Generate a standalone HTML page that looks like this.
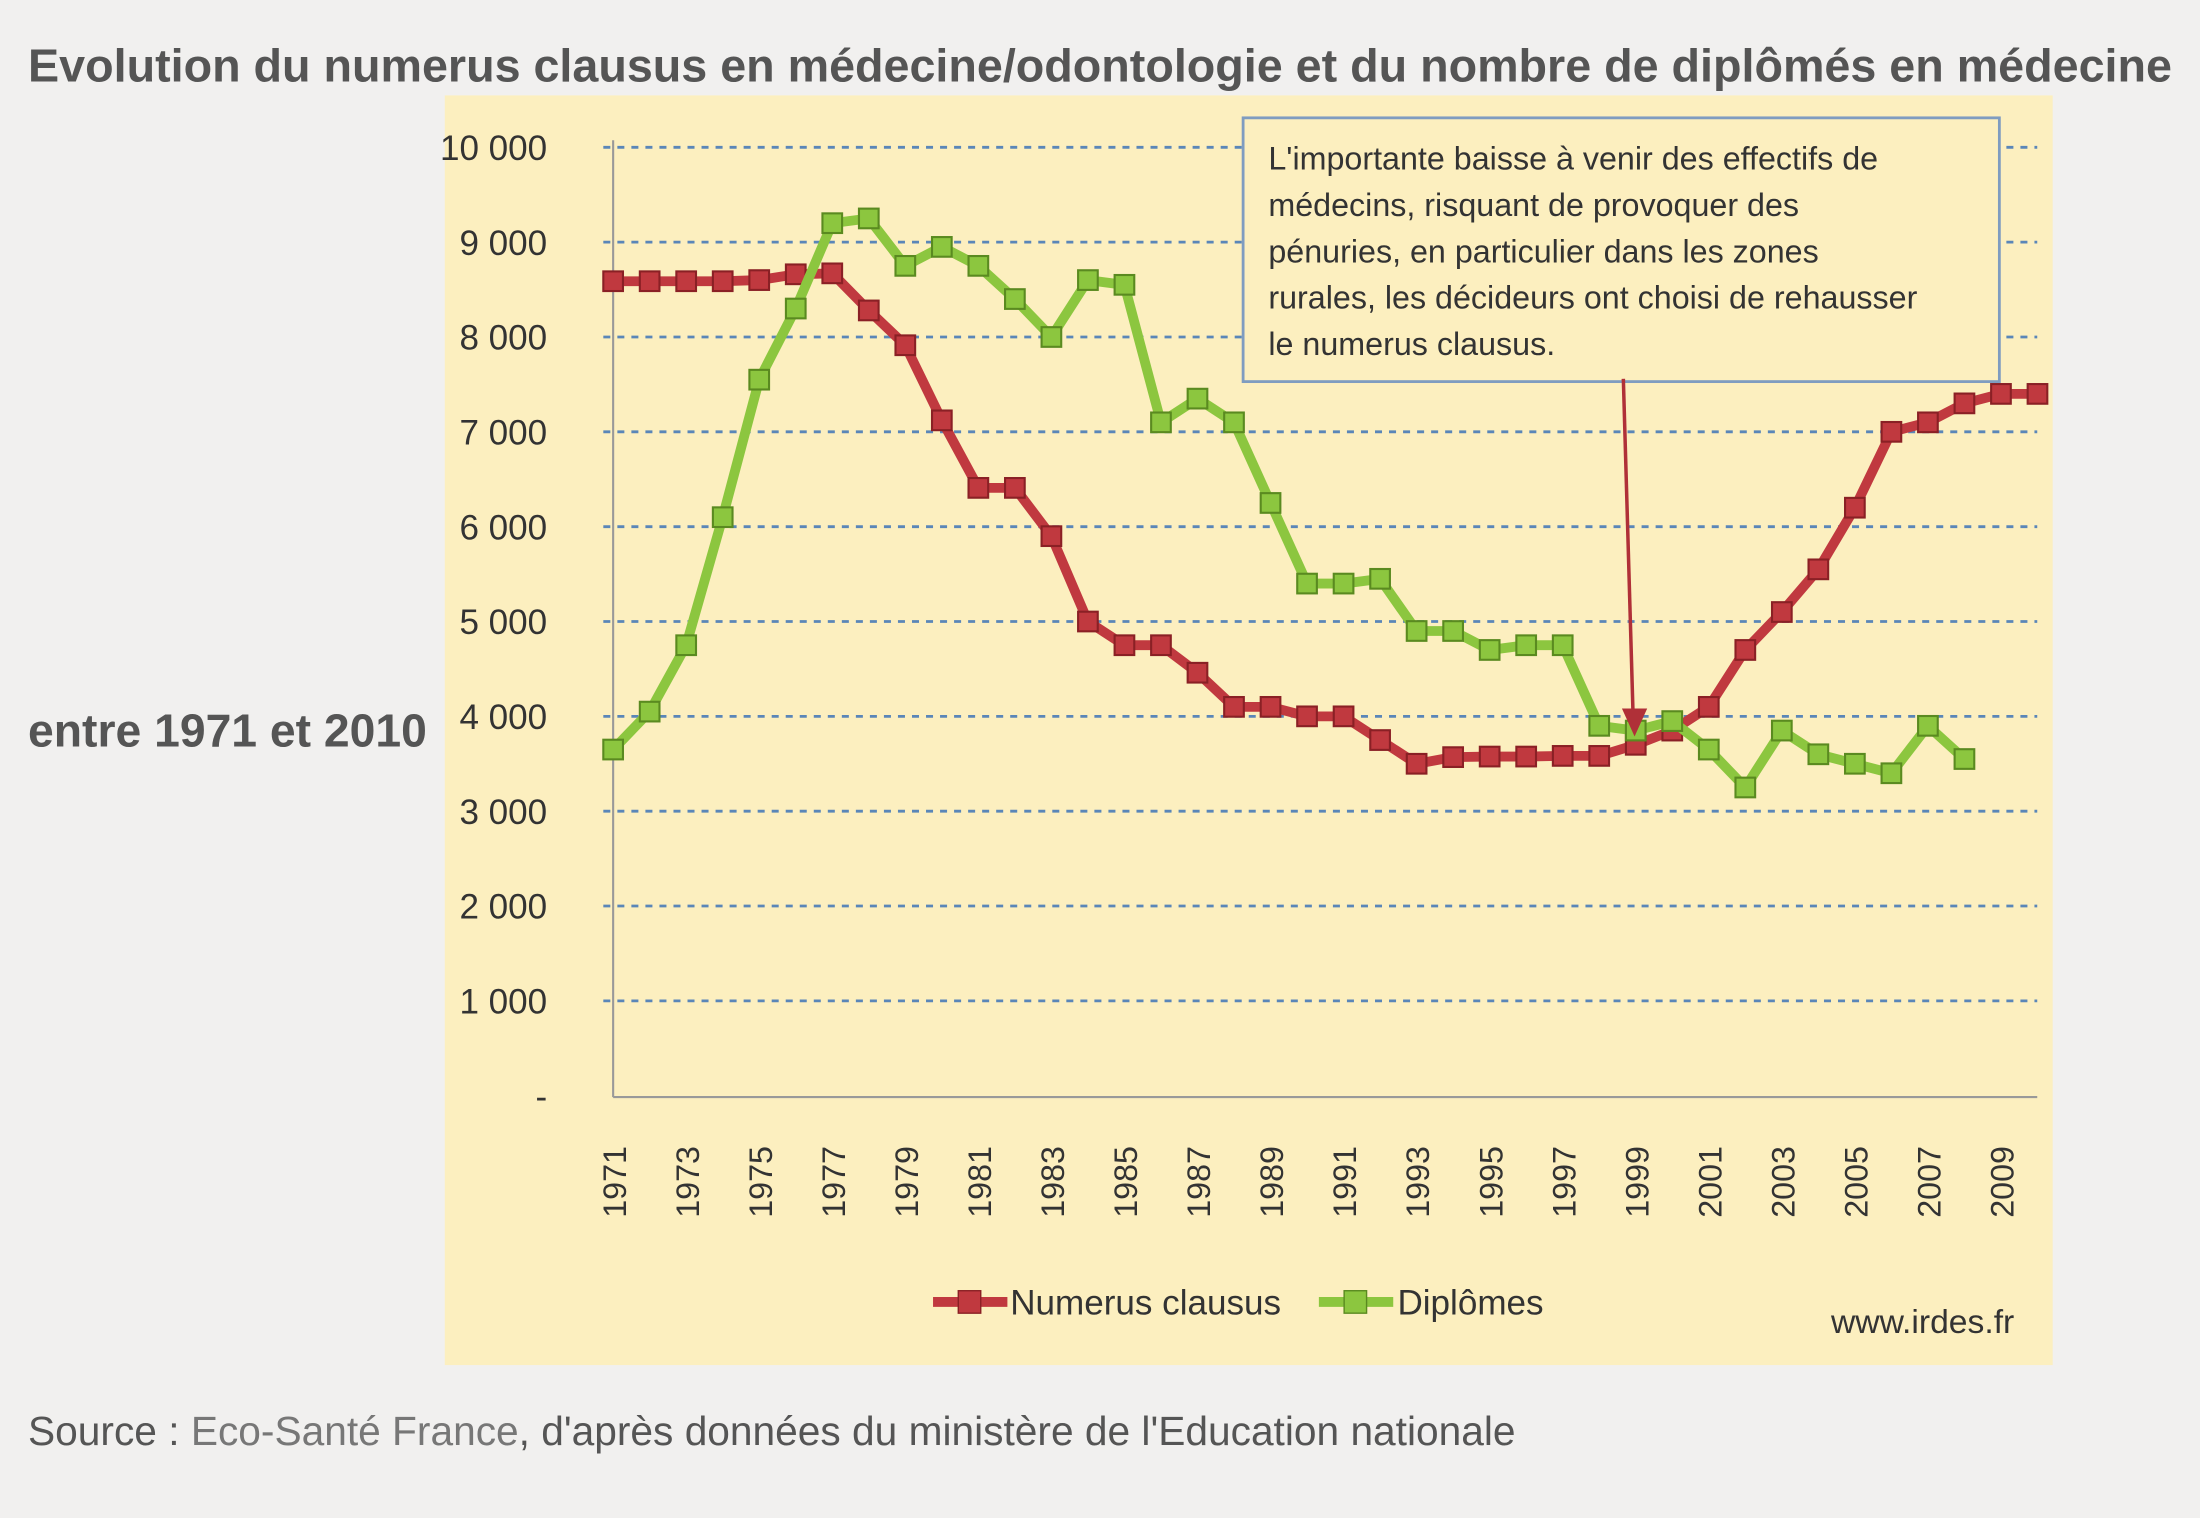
<!DOCTYPE html>
<html><head><meta charset="utf-8"><style>
html,body{margin:0;padding:0;background:#f1f0ef;}
svg{display:block}
</style></head><body>
<svg id="s" width="2200" height="1518" viewBox="0 0 1568 1082" preserveAspectRatio="none" xmlns="http://www.w3.org/2000/svg" font-family="Liberation Sans, sans-serif">
<rect width="1568" height="1082" fill="#f1f0ef"/>
<text x="20" y="58" font-size="33" font-weight="bold" fill="#555" textLength="1528" lengthAdjust="spacingAndGlyphs">Evolution du numerus clausus en médecine/odontologie et du nombre de diplômés en médecine</text>
<rect x="317" y="68" width="1146" height="905" fill="#fcefbf"/>
<g id="grid"></g>
<line x1="437" y1="100" x2="437" y2="782" stroke="#999" stroke-width="1.5"/>
<line x1="437" y1="782" x2="1452" y2="782" stroke="#999" stroke-width="1.5"/>
<g id="ser"></g>
<rect x="886" y="84" width="539" height="188" fill="#fcefbf" stroke="#7f9cc0" stroke-width="2"/>
<g font-size="23" fill="#333">
<text x="904" y="121">L'importante baisse à venir des effectifs de</text>
<text x="904" y="154">médecins, risquant de provoquer des</text>
<text x="904" y="187">pénuries, en particulier dans les zones</text>
<text x="904" y="220">rurales, les décideurs ont choisi de rehausser</text>
<text x="904" y="253">le numerus  clausus.</text>
</g>
<line x1="1157" y1="270" x2="1164" y2="512" stroke="#b03038" stroke-width="2.5"/>
<polygon points="1156,505 1174,505 1165,525" fill="#b03038"/>
<text x="20" y="532" font-size="33" font-weight="bold" fill="#555">entre 1971 et 2010</text>
<line x1="665" y1="928" x2="718" y2="928" stroke="#c0393f" stroke-width="7"/>
<rect x="683" y="920" width="16" height="16" fill="#c0393f" stroke="#8a2025"/>
<text x="720" y="937" font-size="25" fill="#333">Numerus  clausus</text>
<line x1="940" y1="928" x2="993" y2="928" stroke="#8cc63f" stroke-width="7"/>
<rect x="958" y="920" width="16" height="16" fill="#8cc63f" stroke="#5a8a20"/>
<text x="996" y="937" font-size="25" fill="#333">Diplômes</text>
<text x="1305" y="950" font-size="24" fill="#333">www.irdes.fr</text>
<text x="20" y="1030" font-size="29" fill="#555">Source : <tspan fill="#777">Eco-Santé France</tspan>, d'après données du ministère de l'Education nationale</text>
</svg>
<script>
const NS="http://www.w3.org/2000/svg";
function el(t,a,p,txt){const e=document.createElementNS(NS,t);for(const k in a)e.setAttribute(k,a[k]);if(txt)e.textContent=txt;p.appendChild(e);return e;}
const Y=v=>781-v*0.0676, X=yr=>437+(yr-1971)*26.03;
const g=document.getElementById('grid');
for(let i=0;i<=10;i++){const y=Y(i*1000);
 if(i>0)el('line',{x1:430,y1:y,x2:1452,y2:y,stroke:'#5a86b8','stroke-width':2,'stroke-dasharray':'5,5'},g);
 el('text',{x:390,y:y+9,'font-size':25,'text-anchor':'end',fill:'#333'},g,i==0?'-':(i*1000).toLocaleString('fr-FR').replace(/\s/g,' '));
}
for(let yr=1971;yr<=2009;yr+=2){const x=X(yr);
 el('text',{transform:`translate(${x+9},868) rotate(-90)`,'font-size':23,fill:'#333'},g,yr);
}
const red=[8588,8588,8588,8588,8600,8661,8671,8280,7913,7121,6409,6409,5900,5000,4750,4750,4460,4100,4100,4000,4000,3750,3500,3570,3576,3576,3583,3583,3700,3850,4100,4700,5100,5550,6200,7000,7100,7300,7400,7400];
const grn=[3650,4050,4750,6100,7550,8300,9200,9250,8750,8950,8750,8400,8000,8600,8550,7100,7350,7100,6250,5400,5400,5450,4900,4900,4700,4750,4750,3900,3850,3950,3650,3250,3850,3600,3500,3400,3900,3550];
const s=document.getElementById('ser');
function draw(d,c,sc){const pts=d.map((v,i)=>X(1971+i)+','+Y(v)).join(' ');
 el('polyline',{points:pts,fill:'none',stroke:c,'stroke-width':7,'stroke-linejoin':'round'},s);
 d.forEach((v,i)=>el('rect',{x:X(1971+i)-7,y:Y(v)-7,width:14,height:14,fill:c,stroke:sc,'stroke-width':1.5},s));}
draw(red,'#c0393f','#8a2025');
draw(grn,'#8cc63f','#5a8a20');
</script>
</body></html>
